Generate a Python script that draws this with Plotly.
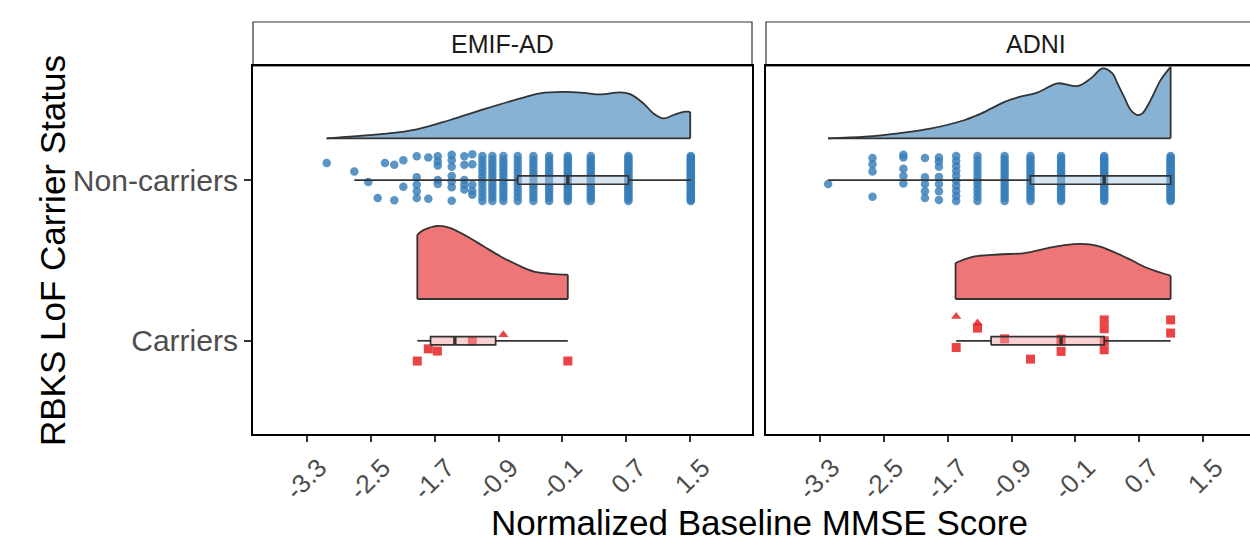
import numpy as np
import plotly.graph_objects as go

W, H = 1250, 543

# ---------------- data ----------------
panels = ["EMIF-AD", "ADNI"]
group_labels = ["Carriers", "Non-carriers"]
tick_vals = [-3.3, -2.5, -1.7, -0.9, -0.1, 0.7, 1.5]
tick_text = ["-3.3", "-2.5", "-1.7", "-0.9", "-0.1", "0.7", "1.5"]

# EMIF-AD non-carriers: sparse columns (value, jitter offsets)
emif_nc_sparse_vals = [-3.053, -2.707, -2.532, -2.414, -2.323, -2.206, -2.093,
                       -1.925, -1.780, -1.662, -1.487, -1.329, -1.229]
emif_nc_sparse_jit = [[0.107], [0.054], [-0.012], [-0.112], [0.107], [0.095, -0.126],
                      [0.124, -0.042], [0.149, 0.017, -0.029, -0.070, -0.112],
                      [0.141, -0.116], [0.149, 0.116, 0.091, 0.0, -0.025],
                      [0.157, 0.124, 0.083, 0.025, -0.008, -0.045, -0.129],
                      [0.149, 0.095, 0.0, -0.029, -0.058],
                      [0.161, 0.099, -0.029, -0.070, -0.091]]
emif_nc_dense_vals = [-1.103, -0.978, -0.840, -0.660, -0.464, -0.267, -0.033, 0.255, 0.726, 1.508]
emif_nc_dense_n = [12, 14, 14, 12, 14, 16, 20, 18, 25, 35]

# ADNI non-carriers
adni_nc_sparse_vals = [-3.198, -2.642, -2.255, -1.985, -1.810]
adni_nc_sparse_jit = [[-0.025], [0.137, 0.099, 0.054, -0.104],
                      [0.157, 0.140, 0.070, 0.025, -0.021],
                      [0.137, 0.017, -0.025, -0.070, -0.112],
                      [0.141, 0.116, 0.083, 0.020, -0.025, -0.070, -0.124]]
adni_nc_dense_vals = [-1.594, -1.327, -0.987, -0.663, -0.280, 0.260, 1.092]
adni_nc_dense_n = [10, 12, 16, 18, 20, 25, 30]

# Carriers
emif_c_vals = [-1.918, -1.780, -1.667, -1.229, -0.840, -0.033]
emif_c_jit = [-0.126, -0.050, -0.064, -0.002, 0.037, -0.126]
emif_c_shape = ["square", "square", "square", "square", "triangle-up", "square"]

adni_c_vals = [-1.594, -1.594, -1.327, -1.327, -0.987, -0.663, -0.280, -0.280, -0.280,
               0.260, 0.260, 0.260, 0.260, 1.092, 1.092]
adni_c_jit = [0.151, -0.042, 0.110, 0.079, 0.012, -0.114, -0.004, -0.066, 0.010,
              0.130, 0.075, -0.056, 0.0, 0.130, 0.048]
adni_c_shape = ["triangle-up", "square", "triangle-up", "square"] + ["square"] * 11

# Box stats: lower whisker, Q1, median, Q3, upper whisker
emif_nc_box = [-2.707, -0.660, -0.033, 0.726, 1.508]
adni_nc_box = [-3.198, -0.663, 0.260, 1.092, 1.092]
emif_c_box = [-1.918, -1.752, -1.448, -0.937, -0.033]
adni_c_box = [-1.594, -1.157, -0.280, 0.260, 1.092]

# Half-violin outlines (value, density height in category units)
emif_nc_vx = [-3.053, -2.761, -2.343, -1.925, -1.508, -1.090, -0.672, -0.380, -0.088,
              0.163, 0.372, 0.622, 0.748, 0.915, 1.040, 1.166, 1.291, 1.416, 1.500]
emif_nc_vh = [0, 0.010, 0.027, 0.056, 0.114, 0.180, 0.242, 0.280, 0.289,
              0.283, 0.273, 0.286, 0.275, 0.217, 0.155, 0.124, 0.145, 0.165, 0.165]
adni_nc_vx = [-3.198, -2.733, -2.318, -1.902, -1.486, -1.278, -0.987, -0.821, -0.572,
              -0.322, -0.073, 0.093, 0.239, 0.363, 0.426, 0.509, 0.593, 0.675, 0.737,
              0.842, 0.966, 1.092]
adni_nc_vh = [0, 0.010, 0.031, 0.062, 0.114, 0.155, 0.227, 0.255, 0.286,
              0.342, 0.325, 0.373, 0.435, 0.404, 0.342, 0.258, 0.176, 0.145, 0.155,
              0.238, 0.362, 0.445]
emif_c_vx = [-1.918, -1.836, -1.648, -1.502, -1.293, -1.084, -0.875, -0.666, -0.457, -0.245, -0.033]
emif_c_vh = [0.400, 0.430, 0.455, 0.441, 0.389, 0.327, 0.265, 0.213, 0.171, 0.157, 0.151]
adni_c_vx = [-1.602, -1.403, -1.071, -0.738, -0.447, -0.239, -0.032, 0.176, 0.384, 0.592, 0.800, 1.092]
adni_c_vh = [0.224, 0.261, 0.277, 0.286, 0.317, 0.335, 0.343, 0.331, 0.292, 0.244, 0.193, 0.145]

# ---------------- styling ----------------
BLUE_PT = "rgba(55,126,184,0.82)"
RED_PT = "rgba(228,26,28,0.82)"
BLUE_V = "rgba(55,126,184,0.6)"
RED_V = "rgba(228,26,28,0.6)"
BLUE_BOX = "rgba(175,203,227,0.5)"
RED_BOX = "rgba(245,163,165,0.5)"
OUT = "#333333"
FONT = "Liberation Sans, Arial, sans-serif"
V_OFF = 0.26
BOX_HALF = 0.026

px = lambda v: v / W
py = lambda v: 1 - v / H
dom1 = [px(253), px(752)]
dom2 = [px(766), 1.0]
ydom = [py(434), py(66)]
xr1 = [-3.976, 2.274]
xr2 = [-3.976, -3.976 + 484 / 79.84]
yr = [0.42, 2.71]

fig = go.Figure()


def add_violin(xs, hs, cat, fill, xa, ya):
    base = cat + V_OFF
    fig.add_trace(go.Scatter(x=[xs[0], xs[-1]], y=[base, base], mode="lines",
                             line=dict(color=OUT, width=1.8), xaxis=xa, yaxis=ya,
                             hoverinfo="skip", showlegend=False))
    fig.add_trace(go.Scatter(x=xs, y=[base + h for h in hs], mode="lines",
                             line=dict(color=OUT, width=1.8, shape="spline", smoothing=1.0),
                             fill="tonexty", fillcolor=fill, xaxis=xa, yaxis=ya,
                             hoverinfo="skip", showlegend=False))
    fig.add_trace(go.Scatter(x=[xs[0], xs[0], None, xs[-1], xs[-1]],
                             y=[base, base + hs[0], None, base, base + hs[-1]], mode="lines",
                             line=dict(color=OUT, width=1.8), xaxis=xa, yaxis=ya,
                             hoverinfo="skip", showlegend=False))


def add_points(xs, ys, color, symbols, size, xa, ya):
    fig.add_trace(go.Scatter(x=xs, y=ys, mode="markers",
                             marker=dict(color=color, size=size, symbol=symbols, line=dict(width=0)),
                             xaxis=xa, yaxis=ya, hoverinfo="skip", showlegend=False))


def add_box(stats, cat, fill, xa, ya):
    lo, q1, med, q3, hi = stats
    fig.add_trace(go.Scatter(x=[lo, q1, None, q3, hi], y=[cat, cat, None, cat, cat], mode="lines",
                             line=dict(color=OUT, width=1.7), xaxis=xa, yaxis=ya,
                             hoverinfo="skip", showlegend=False))
    fig.add_trace(go.Scatter(x=[q1, q3, q3, q1, q1],
                             y=[cat - BOX_HALF, cat - BOX_HALF, cat + BOX_HALF, cat + BOX_HALF, cat - BOX_HALF],
                             mode="lines", fill="toself", fillcolor=fill,
                             line=dict(color=OUT, width=1.7), xaxis=xa, yaxis=ya,
                             hoverinfo="skip", showlegend=False))
    fig.add_trace(go.Scatter(x=[med, med], y=[cat - BOX_HALF, cat + BOX_HALF], mode="lines",
                             line=dict(color=OUT, width=3.4), xaxis=xa, yaxis=ya,
                             hoverinfo="skip", showlegend=False))


def nc_points(sv, sj, dv, dn):
    xs, ys = [], []
    for v, js in zip(sv, sj):
        for j in js:
            xs.append(v)
            ys.append(2 + j)
    for v, n in zip(dv, dn):
        for j in np.linspace(-0.13, 0.15, n):
            xs.append(v)
            ys.append(2 + j)
    return xs, ys


# Panel 1: EMIF-AD
add_violin(emif_nc_vx, emif_nc_vh, 2, BLUE_V, "x", "y")
add_violin(emif_c_vx, emif_c_vh, 1, RED_V, "x", "y")
x1, y1 = nc_points(emif_nc_sparse_vals, emif_nc_sparse_jit, emif_nc_dense_vals, emif_nc_dense_n)
add_points(x1, y1, BLUE_PT, "circle", 8.5, "x", "y")
add_points(emif_c_vals, [1 + j for j in emif_c_jit], RED_PT, emif_c_shape, 9, "x", "y")
add_box(emif_nc_box, 2, BLUE_BOX, "x", "y")
add_box(emif_c_box, 1, RED_BOX, "x", "y")

# Panel 2: ADNI
add_violin(adni_nc_vx, adni_nc_vh, 2, BLUE_V, "x2", "y2")
add_violin(adni_c_vx, adni_c_vh, 1, RED_V, "x2", "y2")
x2, y2 = nc_points(adni_nc_sparse_vals, adni_nc_sparse_jit, adni_nc_dense_vals, adni_nc_dense_n)
add_points(x2, y2, BLUE_PT, "circle", 8.5, "x2", "y2")
add_points(adni_c_vals, [1 + j for j in adni_c_jit], RED_PT, adni_c_shape, 9, "x2", "y2")
add_box(adni_nc_box, 2, BLUE_BOX, "x2", "y2")
add_box(adni_c_box, 1, RED_BOX, "x2", "y2")

xcommon = dict(tickvals=tick_vals, ticktext=tick_text, tickangle=-45, ticks="outside",
               ticklen=6, tickwidth=1.5, tickcolor=OUT, showgrid=False, zeroline=False,
               showline=True, linecolor="black", linewidth=2.2, mirror=True,
               ticklabelshift=12,
               tickfont=dict(family=FONT, size=26, color="#4d4d4d"), automargin=False,
               fixedrange=True)
fig.update_layout(
    width=W, height=H,
    margin=dict(l=0, r=0, t=0, b=0),
    paper_bgcolor="white", plot_bgcolor="white",
    showlegend=False,
    xaxis=dict(domain=dom1, range=xr1, anchor="y", **xcommon),
    xaxis2=dict(domain=dom2, range=xr2, anchor="y2", **xcommon),
    yaxis=dict(domain=ydom, range=yr, anchor="x", tickvals=[1, 2], ticktext=group_labels,
               ticks="outside", ticklen=7, tickwidth=1.5, tickcolor=OUT, showgrid=False,
               zeroline=False, showline=True, linecolor="black", linewidth=2.2, mirror=True,
               tickfont=dict(family=FONT, size=30, color="#4d4d4d"), automargin=False,
               fixedrange=True),
    yaxis2=dict(domain=ydom, range=yr, anchor="x2", showticklabels=False, ticks="",
                showgrid=False, zeroline=False, showline=True, linecolor="black",
                linewidth=2.2, mirror=False, automargin=False, fixedrange=True),
)

# Facet strips
strip_centers = [(253 + 752) / 2, 1036]
for name, dom, cx in zip(panels, [dom1, dom2], strip_centers):
    fig.add_shape(type="rect", xref="paper", yref="paper", x0=dom[0],
                  x1=dom[1] if dom[1] < 1 else 1.02,
                  y0=py(66), y1=py(22), line=dict(color=OUT, width=1.2), fillcolor="white",
                  layer="below")
    fig.add_annotation(x=px(cx), y=py(44), xref="paper", yref="paper", text=name,
                       showarrow=False, xanchor="center", yanchor="middle",
                       font=dict(family=FONT, size=25, color="#1a1a1a"))

# Axis titles
fig.add_annotation(x=px(759), y=py(522), xref="paper", yref="paper",
                   text="Normalized Baseline MMSE Score", showarrow=False,
                   xanchor="center", yanchor="middle",
                   font=dict(family=FONT, size=35, color="black"))
fig.add_annotation(x=px(52), y=py(251), xref="paper", yref="paper", textangle=-90,
                   text="RBKS LoF Carrier Status", showarrow=False,
                   xanchor="center", yanchor="middle",
                   font=dict(family=FONT, size=35, color="black"))

fig.write_html("out.html", post_script="document.body.style.margin='0';",
               config={"displayModeBar": False})
